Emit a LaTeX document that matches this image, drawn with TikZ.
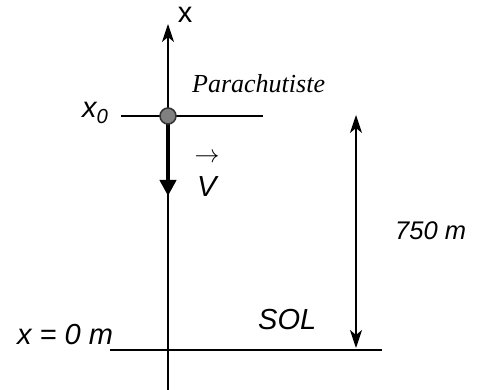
\documentclass[tikz,border=0pt]{standalone}
\usepackage{fontspec}
\setsansfont{Liberation Sans}
\newfontfamily\tnr{Liberation Serif}
\usetikzlibrary{arrows.meta}
\begin{document}
\begin{tikzpicture}[x=1pt,y=-1pt,
  thin line/.style={line width=1.4pt,black},
  tip/.style={-{Stealth[length=18pt,width=12pt,inset=5pt]}},
  lbl/.style={font=\sffamily\itshape\fontsize{29}{31}\selectfont,inner sep=0pt},
  ulbl/.style={font=\sffamily\fontsize{29}{31}\selectfont,inner sep=0pt}]
\useasboundingbox (0,0) rectangle (480,390);
% coordinates
\coordinate (axbot) at (168,390);
\coordinate (axtop) at (168,24);
\coordinate (x0l) at (121,116);
\coordinate (x0r) at (263,116);
\coordinate (vtip) at (168,196);
\coordinate (gl) at (110,350);
\coordinate (gr) at (382,350);
\coordinate (dtop) at (356,115);
\coordinate (dbot) at (356,348);
% axis
\draw[thin line,tip] (axbot) -- (axtop);
\draw[thin line] (x0l) -- (x0r);
\draw[thin line] (gl) -- (gr);
% velocity
\draw[line width=4pt,-{Stealth[length=16pt,width=16pt,inset=0pt]}] (168,116) -- (vtip);
\node[circle,draw=black!80,line width=1.5pt,fill=black!50,minimum size=16pt,inner sep=0pt] (p) at (168,116) {};
% height arrow
\draw[thin line,{Stealth[length=18pt,width=12pt,inset=5pt]}-{Stealth[length=18pt,width=12pt,inset=5pt]}] (dtop) -- (dbot);
% labels
\node[ulbl,anchor=base] (xlab) at (185,23) {x};
\node[lbl,anchor=base west] (x0lab) at (82,118) {x\textsubscript{0}};
\node[font=\tnr\itshape\fontsize{26}{28}\selectfont,inner sep=0pt,anchor=base west] (para) at (192,93) {Parachutiste};
\node[inner sep=0pt,font=\fontsize{30}{32}\selectfont] (varrow) at (207,158) {$\rightarrow$};
\node[lbl,anchor=base west] (vlab) at (197,197) {V};
\node[lbl,anchor=base west] (sol) at (258,330) {SOL};
\node[lbl,anchor=base west] (xzero) at (17,345) {x = 0 m};
\node[lbl,font=\sffamily\itshape\fontsize{25.5}{27}\selectfont,anchor=base west] (h) at (395,240) {750 m};
\end{tikzpicture}
\end{document}
